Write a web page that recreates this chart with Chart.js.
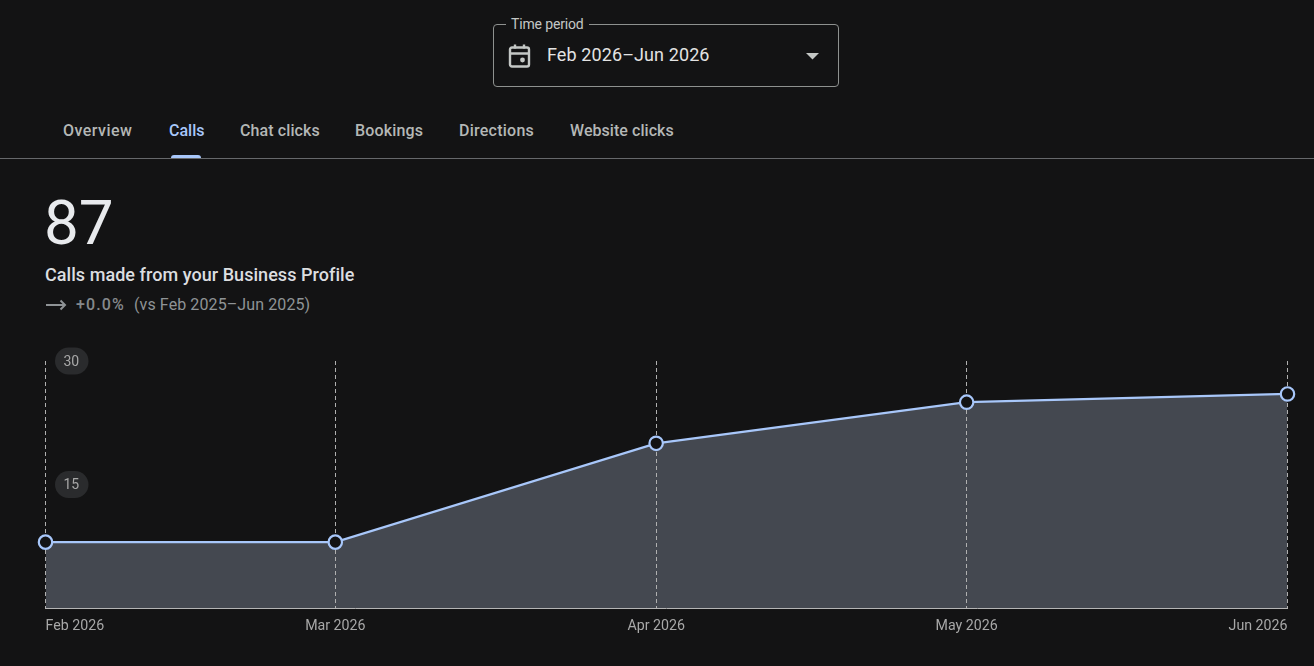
<!DOCTYPE html>
<html>
<head>
<meta charset="utf-8">
<title>Calls</title>
<script src="https://cdn.jsdelivr.net/npm/chart.js@4"></script>
<style>
html, body { margin: 0; padding: 0; background: #131314; overflow: hidden; }
body { width: 1314px; height: 666px; position: relative; font-family: Roboto, sans-serif; color: #e3e3e3; }
.abs { position: absolute; white-space: nowrap; line-height: 1; }
#box { position: absolute; left: 493px; top: 24px; width: 344px; height: 61px; border: 1px solid #8e918f; border-radius: 4px; }
#legend { left: 506px; top: 17px; padding: 0 5px; background: #131314; font-size: 14px; letter-spacing: -0.15px; color: #c4c7c5; }
#period { left: 547px; top: 46px; font-size: 18px; letter-spacing: 0.1px; color: #e3e3e3; }
.tab { top: 123px; font-size: 16px; font-weight: 500; color: #b4b7b6; }
#divider { position: absolute; left: 0; top: 158px; width: 1314px; height: 1px; background: #66686b; }
#underline { position: absolute; left: 171px; top: 155px; width: 30px; height: 3px; background: #a8c7fa; border-radius: 3px 3px 0 0; }
#total { left: 44px; top: 192px; font-size: 62px; color: #e8eaed; }
#caption { left: 45px; top: 266px; font-size: 18px; font-weight: 500; letter-spacing: 0.05px; color: #dcdee0; }
#change { left: 76px; top: 297px; font-size: 16px; font-weight: 500; letter-spacing: 1.1px; color: #85898c; }
#compare { left: 134px; top: 297px; font-size: 16px; letter-spacing: 0.1px; color: #8f9396; }
#wrap { position: absolute; left: 0; top: 340px; width: 1314px; height: 326px; }
</style>
</head>
<body>
<div id="box"></div>
<div class="abs" id="legend">Time period</div>
<svg class="abs" style="left:508px;top:44px" width="24" height="24" viewBox="0 0 24 24" fill="none" stroke="#c4c7c5" stroke-width="2.4">
  <rect x="2" y="3.5" width="19" height="19" rx="2"/>
  <path d="M2 9.5h19M7 0.5v4M16 0.5v4"/>
  <circle cx="14.5" cy="16" r="2.4" fill="#c4c7c5" stroke="none"/>
</svg>
<div class="abs" id="period">Feb 2026–Jun 2026</div>
<svg class="abs" style="left:806px;top:53px" width="13" height="7" viewBox="0 0 13 7"><path d="M0 0h13L6.5 6.5z" fill="#c4c7c5"/></svg>

<div class="abs tab" style="left:63px;letter-spacing:0.45px">Overview</div>
<div class="abs tab" style="left:169px;color:#a8c7fa">Calls</div>
<div class="abs tab" style="left:240px;letter-spacing:0.1px">Chat clicks</div>
<div class="abs tab" style="left:355px;letter-spacing:0.15px">Bookings</div>
<div class="abs tab" style="left:459px;letter-spacing:0.25px">Directions</div>
<div class="abs tab" style="left:570px;letter-spacing:0.05px">Website clicks</div>
<div id="divider"></div>
<div id="underline"></div>

<div class="abs" id="total">87</div>
<div class="abs" id="caption">Calls made from your Business Profile</div>
<svg class="abs" style="left:46px;top:298px" width="21" height="14" viewBox="0 0 21 14" fill="none" stroke="#8f9396" stroke-width="2"><path d="M0 7h19M14.5 2.5L19 7l-4.5 4.5"/></svg>
<div class="abs" id="change">+0.0%</div>
<div class="abs" id="compare">(vs Feb 2025–Jun 2025)</div>

<div id="wrap"><canvas id="chart"></canvas></div>

<script>
const months = ['Feb 2026', 'Mar 2026', 'Apr 2026', 'May 2026', 'Jun 2026'];
// days since 1 Feb, so the months keep their real lengths on the x axis
const monthDays = [0, 28, 59, 89, 120];
const calls = [8, 8, 20, 25, 26];
const yTicks = [15, 30];

const bg = '#131314';
const blue = '#a8c7fa';

// rounded grey pill behind each y label
const pills = {
    id: 'pills',
    beforeDraw(chart) {
        const ctx = chart.ctx;
        const scale = chart.scales.y;
        ctx.save();
        ctx.fillStyle = '#2a2b2d';
        for (let v of yTicks) {
            ctx.beginPath();
            ctx.roundRect(55, scale.getPixelForValue(v) - 13.5, 33.5, 27, 13.5);
            ctx.fill();
        }
        ctx.restore();
    }
};

function createData() {
    return {
        datasets: [{
            data: monthDays.map((d, i) => ({x: d, y: calls[i]})),
            borderColor: blue,
            borderWidth: 2.2,
            backgroundColor: '#444850',
            fill: 'origin',
            tension: 0,
            clip: false,
            pointRadius: 6.7,
            pointBorderWidth: 2.2,
            pointBackgroundColor: bg,
            pointBorderColor: blue
        }]
    };
}

function createOptions() {
    return {
        responsive: true,
        maintainAspectRatio: false,
        animation: false,
        events: [],
        layout: {padding: {left: 45.5, right: 26.5, top: 21, bottom: 0}},
        plugins: {
            legend: {display: false},
            tooltip: {enabled: false},
            filler: {drawTime: 'beforeDraw'}
        },
        scales: {
            x: {
                type: 'linear',
                min: monthDays[0],
                max: monthDays[monthDays.length - 1],
                afterBuildTicks: (scale) => { scale.ticks = monthDays.map(v => ({value: v})); },
                afterFit: (scale) => { scale.height = 58; },
                grid: {color: '#b0b0b0', drawTicks: false, tickLength: 0},
                border: {color: '#b4b4b4', dash: [4, 3]},
                ticks: {
                    color: '#a8a8a8',
                    font: {family: 'Roboto', size: 14.2},
                    padding: 10,
                    align: 'inner',
                    autoSkip: false,
                    maxRotation: 0,
                    callback: (v) => months[monthDays.indexOf(v)]
                }
            },
            y: {
                min: 0,
                max: 30,
                afterBuildTicks: (scale) => { scale.ticks = yTicks.map(v => ({value: v})); },
                // labels sit inside the plot, so the axis takes no room
                afterFit: (scale) => {
                    scale.width = 0;
                    scale.paddingTop = 0;
                    scale.paddingBottom = 0;
                },
                grid: {display: false, drawTicks: false, tickLength: 0},
                border: {display: false},
                ticks: {
                    mirror: true,
                    padding: 18,
                    labelOffset: 1,
                    color: '#a8a8a8',
                    font: {family: 'Roboto', size: 14}
                }
            }
        }
    };
}

new Chart(document.getElementById('chart'), {
    type: 'line',
    data: createData(),
    options: createOptions(),
    plugins: [pills]
});
</script>
</body>
</html>
